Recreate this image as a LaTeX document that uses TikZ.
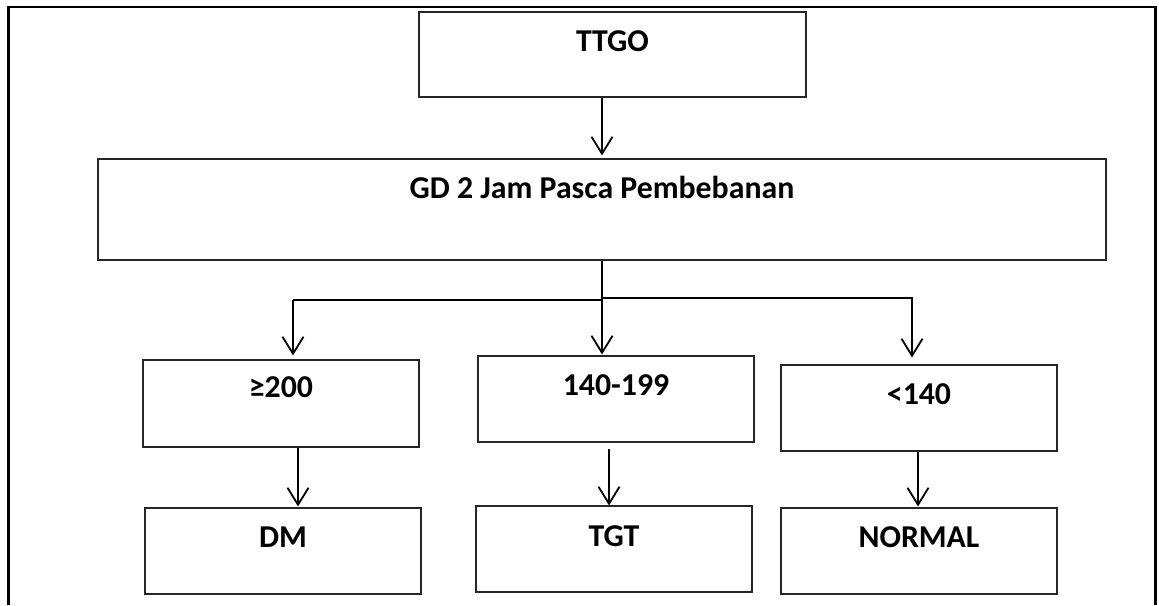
\documentclass[tikz,border=0pt]{standalone}
\usepackage{fontspec}
\setmainfont{Carlito}
\usetikzlibrary{arrows.meta,calc}
\begin{document}
\begin{tikzpicture}[x=1pt,y=-1pt,
  box/.style={draw=black!85,line width=1.1pt,inner sep=0pt,minimum width=#1},
  box/.default=276pt,
  lbl/.style={anchor=base,inner sep=0pt,font=\fontsize{31.8}{36}\selectfont\bfseries},
  arr/.style={line width=1.8pt,-{Straight Barb[length=17pt,width=21pt,line width=1.8pt]}},
  bus/.style={line width=2.2pt}]
\useasboundingbox (0,0) rectangle (1159,605);
% outer frame (open at the bottom)
\draw[line width=2.6pt] (8.5,605) -- (8.5,7) -- (1155.5,7) -- (1155.5,605);
% boxes
\node[box=387pt,minimum height=85pt]  (ttgo) at (612.5,54.5) {};
\node[box=1008pt,minimum height=101pt] (gd)  at (602,209.5) {};
\node[box,minimum height=87pt] (b1) at (281,403.5) {};
\node[box,minimum height=86pt] (b2) at (616,399) {};
\node[box,minimum height=86pt] (b3) at (919,408) {};
\node[box,minimum height=86pt] (dm) at (283,551) {};
\node[box,minimum height=86pt] (tgt) at (614,549) {};
\node[box,minimum height=86pt] (nor) at (919,551) {};
% labels
\node[lbl] (lttgo) at ($(ttgo.north)+(0,40)$) {TTGO};
\node[lbl] (lgd) at ($(gd.north)+(0,40)$) {GD 2 Jam Pasca Pembebanan};
\node[lbl] (lb1) at ($(b1.north)+(0,38)$) {≥200};
\node[lbl] (lb2) at ($(b2.north)+(0,40)$) {140-199};
\node[lbl] (lb3) at ($(b3.north)+(0,40)$) {<140};
\node[lbl] (ldm) at ($(dm.north)+(0,40)$) {DM};
\node[lbl] (ltgt) at ($(tgt.north)+(0,41)$) {TGT};
\node[lbl] (lnor) at ($(nor.north)+(0,40)$) {NORMAL};
% branch points
\coordinate (jl) at (293,300);
\coordinate (jm) at (602,300);
\coordinate (jm2) at (602,298);
\coordinate (jr) at (913,298);
% connectors
\draw[arr,shorten >=3pt] (gd.north |- ttgo.south) -- (gd.north);
\draw[arr] (gd.south) -- ($(gd.south |- b2.north)+(0,-1)$);
\draw[bus] (jl) -- (jm);
\draw[bus] (jm2) -- (jr);
\draw[arr] (jl) -- ($(jl |- b1.north)+(0,-4)$);
\draw[arr] ($(jr)+(-1,0)$) -- ($(jr |- b3.north)+(-1,-7)$);
\draw[arr] (b1.south -| 298,0) -- ($(dm.north -| 298,0)+(0,-1)$);
\draw[arr] ($(b2.south -| 609,0)+(0,6)$) -- (tgt.north -| 609,0);
\draw[arr] (b3.south -| 918,0) -- ($(nor.north -| 918,0)+(0,-1)$);
\end{tikzpicture}
\end{document}
